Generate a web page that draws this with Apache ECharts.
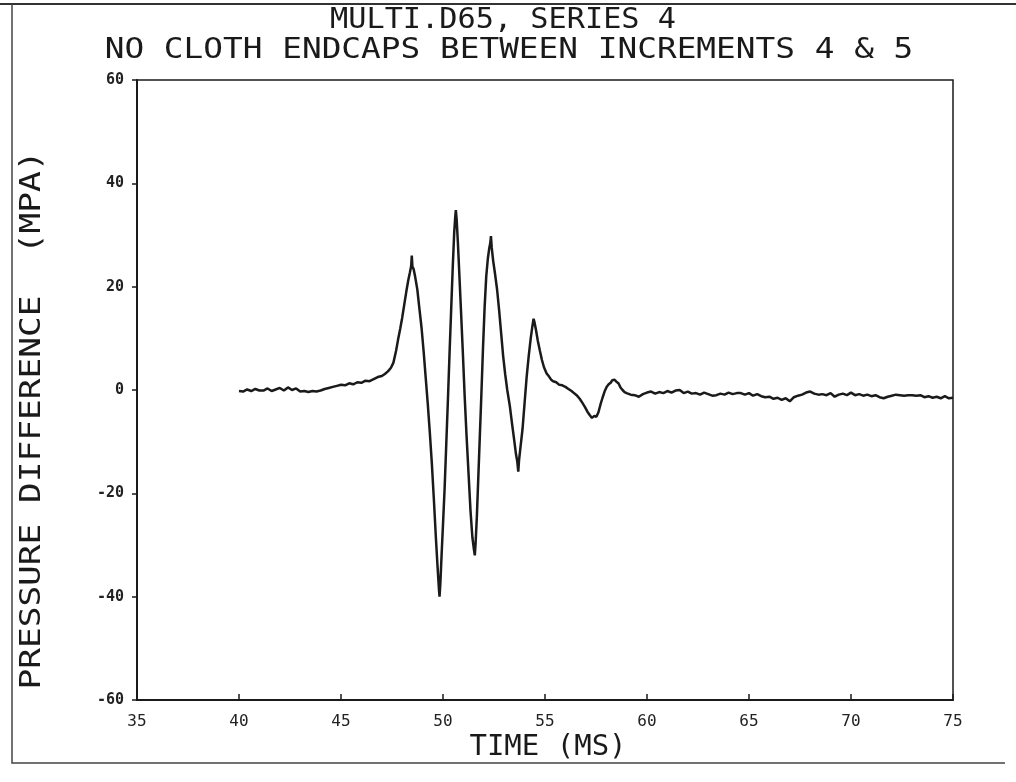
<!DOCTYPE html>
<html>
<head>
<meta charset="utf-8">
<script src="https://cdn.jsdelivr.net/npm/echarts@6/dist/echarts.min.js"></script>
<style>
html,body{margin:0;padding:0;background:#ffffff;}
#chart{width:1016px;height:782px;}
</style>
</head>
<body>
<div id="chart"></div>
<script>
// ---- chart text ----
var titleLine1 = 'MULTI.D65, SERIES 4';
var titleLine2 = 'NO CLOTH ENDCAPS BETWEEN INCREMENTS 4 & 5';
var xAxisTitle = 'TIME (MS)';
var yAxisTitle = 'PRESSURE DIFFERENCE  (MPA)';

// ---- axis ranges / ticks ----
var xTicks = [35, 40, 45, 50, 55, 60, 65, 70, 75];
var yTicks = [-60, -40, -20, 0, 20, 40, 60];

// ---- series: time (ms) and pressure difference (MPa) ----
var timeMs = [
  40.0, 40.2, 40.4, 40.6, 40.8, 41.0, 41.2, 41.4, 41.6, 41.8,
  42.0, 42.2, 42.4, 42.6, 42.8, 43.0, 43.2, 43.4, 43.6, 43.8,
  44.0, 44.2, 44.4, 44.6, 44.8, 45.0, 45.2, 45.4, 45.6, 45.8,
  46.0, 46.2, 46.4, 46.6, 46.8, 47.0, 47.15, 47.3, 47.45, 47.57,
  47.7, 47.8, 47.9, 48.0, 48.1, 48.2, 48.3, 48.38, 48.44, 48.47,
  48.5, 48.56, 48.64, 48.74, 48.85, 48.95, 49.05, 49.15, 49.25, 49.35,
  49.45, 49.55, 49.65, 49.73, 49.8, 49.83, 49.87, 49.93, 50.0, 50.08,
  50.16, 50.24, 50.32, 50.4, 50.48, 50.55, 50.6, 50.63, 50.67, 50.73,
  50.8, 50.88, 50.97, 51.06, 51.15, 51.25, 51.35, 51.44, 51.52, 51.56,
  51.6, 51.66, 51.73, 51.8, 51.88, 51.96, 52.04, 52.12, 52.2, 52.27,
  52.32, 52.35, 52.39, 52.46, 52.55, 52.65, 52.75, 52.85, 52.95, 53.05,
  53.15, 53.28, 53.4, 53.5, 53.58, 53.64, 53.69, 53.73, 53.8, 53.9,
  54.0, 54.1, 54.2, 54.3, 54.38, 54.44, 54.48, 54.55, 54.65, 54.75,
  54.85, 54.95, 55.08, 55.2, 55.3, 55.4, 55.55, 55.7, 55.85, 56.0,
  56.15, 56.3, 56.45, 56.55, 56.7, 56.85, 56.96, 57.08, 57.2, 57.3,
  57.42, 57.52, 57.62, 57.72, 57.82, 57.92, 58.02, 58.12, 58.22, 58.3,
  58.4, 58.5, 58.6, 58.7, 58.8, 58.9, 59.0, 59.2, 59.4, 59.6,
  59.8, 60.0, 60.2, 60.4, 60.6, 60.8, 61.0, 61.2, 61.4, 61.6,
  61.8, 62.0, 62.2, 62.4, 62.6, 62.8, 63.0, 63.2, 63.4, 63.6,
  63.8, 64.0, 64.2, 64.4, 64.6, 64.8, 65.0, 65.2, 65.4, 65.6,
  65.8, 66.0, 66.2, 66.4, 66.6, 66.8, 67.0, 67.2, 67.4, 67.6,
  67.8, 68.0, 68.2, 68.4, 68.6, 68.8, 69.0, 69.2, 69.4, 69.6,
  69.8, 70.0, 70.2, 70.4, 70.6, 70.8, 71.0, 71.2, 71.4, 71.6,
  71.8, 72.0, 72.2, 72.4, 72.6, 72.8, 73.0, 73.2, 73.4, 73.6,
  73.8, 74.0, 74.2, 74.4, 74.6, 74.8, 75.0
];
var pressureMpa = [
  -0.2, -0.3, 0.1, -0.2, 0.2, -0.1, -0.1, 0.3, -0.2, 0.1,
  0.4, -0.1, 0.5, 0.0, 0.3, -0.3, -0.2, -0.4, -0.2, -0.3,
  -0.1, 0.2, 0.4, 0.6, 0.8, 1.0, 0.9, 1.3, 1.1, 1.5,
  1.4, 1.8, 1.7, 2.1, 2.5, 2.7, 3.1, 3.6, 4.3, 5.3,
  7.6, 9.8, 11.8, 14.0, 16.5, 19.0, 21.3, 22.8, 24.0, 26.0,
  23.9, 23.4, 21.8, 19.5, 15.5, 12.0, 7.5, 2.5, -2.5, -8.0,
  -14.0, -21.0, -28.5, -34.0, -38.5, -40.0, -37.5, -32.0, -26.0, -19.0,
  -10.5, -2.0, 7.0, 15.5, 24.0, 30.5, 33.5, 34.8, 33.0, 28.5,
  22.5, 15.5, 7.5, -1.0, -8.5, -16.0, -23.5, -28.5, -31.0, -32.0,
  -29.5, -24.5, -17.0, -9.5, -1.0, 8.0, 16.0, 22.0, 25.5, 27.5,
  28.5, 29.8, 27.5, 25.0, 22.5, 19.5, 15.5, 11.0, 6.5, 3.0,
  0.0, -3.2, -7.0, -10.0, -12.5, -13.8, -15.8, -13.5, -11.0, -7.5,
  -2.5, 2.5, 6.5, 10.0, 12.3, 13.8, 13.2, 11.8, 9.5, 7.6,
  5.8, 4.4, 3.2, 2.6, 2.0, 1.7, 1.5, 1.0, 0.9, 0.6,
  0.2, -0.2, -0.7, -1.0, -1.7, -2.6, -3.3, -4.2, -4.9, -5.4,
  -5.0, -5.2, -4.3, -2.8, -1.5, -0.3, 0.6, 1.1, 1.4, 1.9,
  2.0, 1.6, 1.3, 0.5, 0.0, -0.4, -0.6, -0.9, -1.0, -1.3,
  -0.8, -0.5, -0.3, -0.7, -0.4, -0.6, -0.2, -0.5, -0.1, 0.0,
  -0.6, -0.3, -0.7, -0.6, -0.9, -0.5, -0.8, -1.1, -1.0, -0.7,
  -0.9, -0.5, -0.8, -0.6, -0.6, -0.9, -0.6, -1.1, -0.8, -1.2,
  -1.4, -1.3, -1.7, -1.5, -1.9, -1.6, -2.2, -1.4, -1.1, -0.9,
  -0.5, -0.3, -0.7, -0.9, -0.8, -1.0, -0.6, -1.3, -0.9, -0.7,
  -1.0, -0.5, -1.0, -0.8, -1.1, -0.9, -1.2, -1.0, -1.4, -1.6,
  -1.3, -1.1, -0.9, -1.0, -1.1, -1.0, -1.0, -1.1, -1.0, -1.4,
  -1.2, -1.5, -1.3, -1.6, -1.2, -1.6, -1.5
];

var ink = '#1a1a1a';
var monoFont = '"DejaVu Sans Mono", "Liberation Mono", monospace';

var chart = echarts.init(document.getElementById('chart'), null, {renderer: 'canvas'});

var seriesData = timeMs.map(function (t, i) { return [t, pressureMpa[i]]; });

var option = {
  backgroundColor: '#ffffff',
  animation: false,
  grid: {
    left: 137, right: 63, top: 80, bottom: 82,
    show: true, borderColor: ink, borderWidth: 1.5, backgroundColor: 'transparent'
  },
  xAxis: {
    type: 'value',
    min: xTicks[0], max: xTicks[xTicks.length - 1], interval: xTicks[1] - xTicks[0],
    axisLine: {show: true, onZero: false, lineStyle: {color: ink, width: 2}},
    axisTick: {show: true, inside: true, length: 6, lineStyle: {color: ink, width: 1.5}},
    splitLine: {show: false},
    axisLabel: {color: '#222', fontFamily: monoFont, fontSize: 16, margin: 14}
  },
  yAxis: {
    type: 'value',
    min: yTicks[0], max: yTicks[yTicks.length - 1], interval: yTicks[1] - yTicks[0],
    axisLine: {show: true, onZero: false, lineStyle: {color: ink, width: 2}},
    axisTick: {show: true, inside: false, length: 5, lineStyle: {color: ink, width: 1.5}},
    splitLine: {show: false},
    axisLabel: {color: '#222', fontFamily: monoFont, fontSize: 15, fontWeight: 'bold', margin: 13}
  },
  series: [{
    type: 'line',
    data: seriesData,
    showSymbol: false,
    symbol: 'none',
    smooth: false,
    lineStyle: {color: ink, width: 2.5},
    z: 3
  }],
  graphic: [
    {
      type: 'text', x: 503, y: 21, scaleX: 1.08, scaleY: 1,
      style: {text: titleLine1, x: 0, y: 0, textAlign: 'center', textVerticalAlign: 'middle',
              fill: ink, font: '28px ' + monoFont}
    },
    {
      type: 'text', x: 509, y: 51, scaleX: 1.17, scaleY: 1,
      style: {text: titleLine2, x: 0, y: 0, textAlign: 'center', textVerticalAlign: 'middle',
              fill: ink, font: '28px ' + monoFont}
    },
    {
      type: 'text', x: 548, y: 747, scaleX: 1.0, scaleY: 1,
      style: {text: xAxisTitle, x: 0, y: 0, textAlign: 'center', textVerticalAlign: 'middle',
              fill: ink, font: '29px ' + monoFont}
    },
    {
      type: 'text', x: 33, y: 420, rotation: Math.PI / 2, scaleX: 1.23, scaleY: 1,
      style: {text: yAxisTitle, x: 0, y: 0, textAlign: 'center', textVerticalAlign: 'middle',
              fill: ink, font: '28px ' + monoFont}
    },
    {
      type: 'polyline', silent: true,
      shape: {points: [[0, 4], [1016, 4]]},
      style: {stroke: '#333', lineWidth: 2, fill: null}
    },
    {
      type: 'polyline', silent: true,
      shape: {points: [[12, 4], [12, 763], [1005, 763]]},
      style: {stroke: '#444', lineWidth: 1.5, fill: null}
    }
  ]
};

chart.setOption(option);
</script>
</body>
</html>
